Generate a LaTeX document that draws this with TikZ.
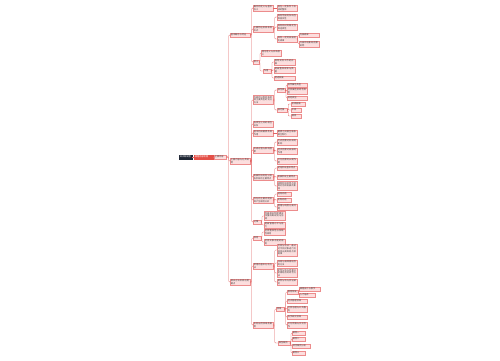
\documentclass[tikz,border=0pt]{standalone}
\usepackage{fontspec}
\newfontfamily\cjk{Noto Sans CJK SC}
\XeTeXlinebreaklocale "zh"
\XeTeXlinebreakskip = 0pt plus 1pt
\usetikzlibrary{positioning}
\definecolor{lk}{RGB}{226,100,100}
\definecolor{bx}{RGB}{252,222,222}
\definecolor{bd}{RGB}{236,140,140}
\definecolor{rt}{RGB}{30,38,52}
\definecolor{rd}{RGB}{228,80,72}
\tikzset{
  box/.style={draw=bd, fill=bx, line width=0.2pt, inner sep=0.7pt, anchor=west,
    font=\cjk\fontsize{2.2}{2.7}\selectfont, text=black!75, align=left},
  tw/.style={text width=#1pt},
  link/.style={draw=lk, line width=0.3pt, rounded corners=1pt},
}

\begin{document}
\begin{tikzpicture}[x=1pt, y=-1pt]
      \fill[white] (0,0) rectangle (500,360);
      % root
      \node[box, tw=11.6, fill=rt, draw=rt, text=white] (R1) at (179,157) {知识框架图};
      \node[box, tw=17.6, fill=rd, draw=rd, text=white] (R2) at (194,157) {课程内容梳理};
      \node[box, tw=10.6] (R3) at (214,157) {主要内容};
      % first level
      \node[box, tw=18.6] (LA) at (230,35)  {基本概念与特征};
      \node[box, tw=18.6] (LB) at (230,161) {主要内容与分类说明};
      \node[box, tw=18.6] (LC) at (230,282) {相关方法及其应用要点};

      % branch A
      \node[box, tw=18.6] (A1)   at (253,8)  {概念的定义与基本含义};
      \node[box, tw=18.6] (A1a)  at (277,8)  {指在一定条件下形成的整体};
      \node[box, tw=18.6] (A2)   at (253,29) {主要特征及其表现形式};
      \node[box, tw=18.6] (A2a)  at (277,17) {具有明显的系统性和层次性};
      \node[box, tw=18.6] (A2b)  at (277,27) {具有相对的稳定性和连续性};
      \node[box, tw=18.6] (A2c)  at (277,39) {具有一定的发展变化规律};
      \node[box, tw=18.6] (A2c1) at (299,35) {内部规律};
      \node[box, tw=18.6] (A2c2) at (299,44) {外部环境影响因素说明};
      \node[box, tw=4.6]  (A3)   at (253,62) {意义};
      \node[box, tw=18.6] (A3a)  at (261,53) {理论意义与实践意义};
      \node[box, tw=6.6]  (A3b)  at (263,71) {作用};
      \node[box, tw=19.6] (A3b1) at (274,62) {指导实际工作的开展};
      \node[box, tw=19.6] (A3b2) at (274,70) {提高整体效率与质量};
      \node[box, tw=19.6] (A3b3) at (274,78) {促进发展};

      % branch B
      \node[box, tw=18.6] (B1)   at (253,100) {内容的分类标准及其主要类型的划分方法};
      \node[box, tw=6.6]  (B1a)  at (277,90)  {按性质};
      \node[box, tw=18.6] (B1a1) at (287,85)  {自然属性类型};
      \node[box, tw=18.6] (B1a2) at (287,91)  {社会属性及综合类型};
      \node[box, tw=18.6] (B1a3) at (287,98)  {其他类型};
      \node[box, tw=8.6]  (B1b)  at (277,110) {按范围};
      \node[box, tw=12.6] (B1b1) at (291,104) {宏观层面};
      \node[box, tw=8.6]  (B1b2) at (291,110) {中观};
      \node[box, tw=8.6]  (B1b3) at (291,116) {微观};
      \node[box, tw=18.6] (B2)   at (253,124) {各类型之间的相互关系};
      \node[box, tw=18.6] (B3)   at (253,133) {基本构成要素及其作用};
      \node[box, tw=18.6] (B3a)  at (277,133) {要素之间相互联系相互制约};
      \node[box, tw=18.6] (B4)   at (253,150) {形成过程与影响因素};
      \node[box, tw=18.6] (B4a)  at (277,142) {历史因素对形成的影响};
      \node[box, tw=18.6] (B4b)  at (277,151) {经济因素对发展的作用};
      \node[box, tw=18.6] (B4c)  at (277,161) {文化因素的长期作用};
      \node[box, tw=18.6] (B5)   at (253,177) {发展阶段的划分及各阶段的主要特点};
      \node[box, tw=18.6] (B5a)  at (277,168) {初始阶段基本特点};
      \node[box, tw=18.6] (B5b)  at (277,177) {发展阶段主要特点};
      \node[box, tw=18.6] (B5c)  at (277,186) {成熟阶段的特点及其对后续发展的影响};
      \node[box, tw=18.6] (B6)   at (253,200) {存在的主要问题及其产生原因分析};
      \node[box, tw=12.6] (B6a)  at (277,194) {结构问题};
      \node[box, tw=12.6] (B6b)  at (277,200) {机制问题};
      \node[box, tw=18.6] (B6c)  at (277,207) {管理与制度方面问题};
      \node[box, tw=6.6]  (B7)   at (253,222) {对策};
      \node[box, tw=19.6] (B7a)  at (264,216) {完善相关制度建设加强统筹规划与协调};
      \node[box, tw=19.6] (B7b)  at (264,225) {提高管理水平与能力};

      % branch C
      \node[box, tw=6.6]  (C1)   at (253,238) {原则};
      \node[box, tw=19.6] (C1a)  at (264,232) {坚持整体性与系统性原则};
      \node[box, tw=19.6] (C1b)  at (264,242) {坚持实事求是的原则};
      \node[box, tw=18.6] (C2)   at (253,266) {常用的基本分析方法};
      \node[box, tw=18.6] (C2a)  at (277,250) {比较分析法：通过对不同对象进行比较找出其异同点及规律};
      \node[box, tw=18.6] (C2b)  at (277,263) {归纳与演绎相结合的方法};
      \node[box, tw=18.6] (C2c)  at (277,273) {定性分析与定量分析相结合的综合方法};
      \node[box, tw=18.6] (C2d)  at (277,282) {案例分析与实证研究};
      \node[box, tw=18.6] (C3)   at (253,325) {实际应用领域及案例};
      \node[box, tw=6.6]  (C3a)  at (276,309) {领域};
      \node[box, tw=9.6]  (C3a1) at (287,292) {教育领域};
      \node[box, tw=19.6] (C3a1a) at (299,289) {课程设计与教学};
      \node[box, tw=14.6] (C3a1b) at (299,295) {人才培养};
      \node[box, tw=18.6] (C3a2) at (287,301) {经济管理领域};
      \node[box, tw=18.6] (C3a3) at (287,309) {社会治理与公共服务};
      \node[box, tw=18.6] (C3a4) at (287,317) {科学研究领域};
      \node[box, tw=18.6] (C3a5) at (287,325) {文化传播与交流合作};
      \node[box, tw=10.6] (C3b)  at (278,343) {典型案例};
      \node[box, tw=11.6] (C3b1) at (292,333) {案例一};
      \node[box, tw=11.6] (C3b2) at (292,339) {案例二};
      \node[box, tw=16.6] (C3b3) at (292,346) {综合案例分析};
      \node[box, tw=11.6] (C3b4) at (292,353) {案例三};

      % connectors
      \draw[link] (R1) -- (R2);
      \draw[link] (R2) -- (R3);
      \foreach \c in {LA,LB,LC} \draw[link] (R3.east) -- ++(2.5,0) |- (\c.west);
      \foreach \c in {A1,A2,A3} \draw[link] (LA.east) -- ++(1.5,0) |- (\c.west);
      \foreach \c in {B1,B2,B3,B4,B5,B6,B7} \draw[link] (LB.east) -- ++(1.5,0) |- (\c.west);
      \foreach \c in {C1,C2,C3} \draw[link] (LC.east) -- ++(1.5,0) |- (\c.west);
      \draw[link] (A1) -- (A1a);
      \foreach \c in {A2a,A2b,A2c} \draw[link] (A2.east) -- ++(1.5,0) |- (\c.west);
      \foreach \c in {A2c1,A2c2} \draw[link] (A2c.east) -- ++(0.8,0) |- (\c.west);
      \foreach \c in {A3a,A3b} \draw[link] (A3.east) -- ++(0.8,0) |- (\c.west);
      \foreach \c in {A3b1,A3b2,A3b3} \draw[link] (A3b.east) -- ++(0.8,0) |- (\c.west);
      \foreach \c in {B1a,B1b} \draw[link] (B1.east) -- ++(1.5,0) |- (\c.west);
      \foreach \c in {B1a1,B1a2,B1a3} \draw[link] (B1a.east) -- ++(0.8,0) |- (\c.west);
      \foreach \c in {B1b1,B1b2,B1b3} \draw[link] (B1b.east) -- ++(1,0) |- (\c.west);
      \draw[link] (B3) -- (B3a);
      \foreach \c in {B4a,B4b,B4c} \draw[link] (B4.east) -- ++(1.5,0) |- (\c.west);
      \foreach \c in {B5a,B5b,B5c} \draw[link] (B5.east) -- ++(1.5,0) |- (\c.west);
      \foreach \c in {B6a,B6b,B6c} \draw[link] (B6.east) -- ++(1.5,0) |- (\c.west);
      \foreach \c in {B7a,B7b} \draw[link] (B7.east) -- ++(0.8,0) |- (\c.west);
      \foreach \c in {C1a,C1b} \draw[link] (C1.east) -- ++(0.8,0) |- (\c.west);
      \foreach \c in {C2a,C2b,C2c,C2d} \draw[link] (C2.east) -- ++(1.5,0) |- (\c.west);
      \foreach \c in {C3a,C3b} \draw[link] (C3.east) -- ++(1.5,0) |- (\c.west);
      \foreach \c in {C3a1,C3a2,C3a3,C3a4,C3a5} \draw[link] (C3a.east) -- ++(1.5,0) |- (\c.west);
      \foreach \c in {C3a1a,C3a1b} \draw[link] (C3a1.east) -- ++(0.8,0) |- (\c.west);
      \foreach \c in {C3b1,C3b2,C3b3,C3b4} \draw[link] (C3b.east) -- ++(0.8,0) |- (\c.west);
    \end{tikzpicture}
\end{document}
